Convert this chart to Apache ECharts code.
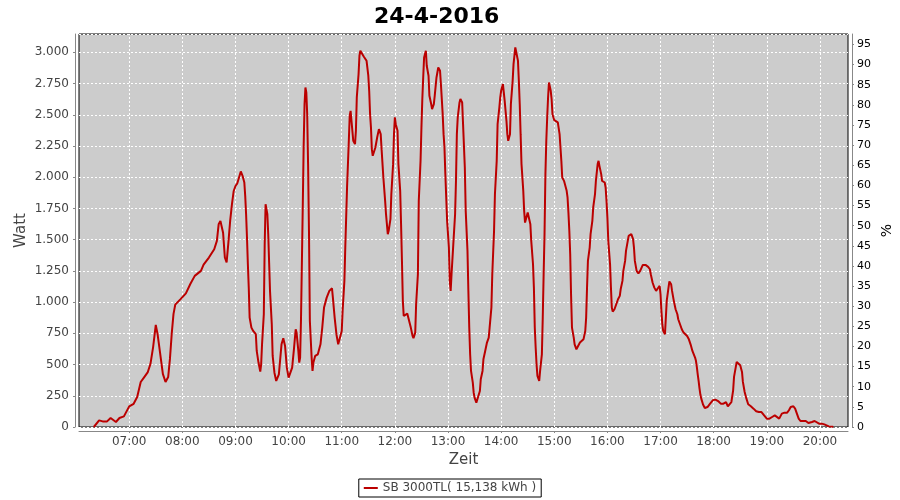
<!DOCTYPE html>
<html><head><meta charset="utf-8">
<script src="https://cdn.jsdelivr.net/npm/echarts@6/dist/echarts.min.js"></script>
<style>html,body{margin:0;padding:0;background:#fff}#c{width:900px;height:500px}</style>
</head><body><div id="c"></div>
<script>
const chartTitle = '24-4-2016';
const seriesName = 'SB 3000TL( 15,138 kWh )';
const xName = 'Zeit';
const yLeftName = 'Watt';
const yRightName = '%';
const hourTicks = ['07:00','08:00','09:00','10:00','11:00','12:00','13:00','14:00','15:00','16:00','17:00','18:00','19:00','20:00'];
const wattMax = 3147;
const pctMax = 97.6;

const times = [
'06:20','06:26','06:30','06:35','06:39','06:45','06:49','06:54','07:00','07:05','07:09','07:13','07:17','07:21','07:24','07:27','07:30','07:32','07:35','07:38','07:41','07:44','07:46','07:48','07:50','07:52','07:58',
'08:04','08:09','08:14','08:21','08:24','08:30','08:36','08:39','08:41','08:43','08:46','08:48','08:50','08:52','08:54','08:56','08:58',
'09:00','09:02','09:04','09:06','09:08','09:10','09:11','09:12','09:13','09:14','09:15','09:16','09:18','09:20','09:23','09:24','09:26','09:28','09:29','09:30','09:32','09:33','09:34','09:36','09:37','09:38','09:39','09:41','09:42','09:44','09:46','09:48','09:49','09:51','09:52','09:54','09:56','09:58',
'10:00','10:02','10:04','10:06','10:08','10:09','10:11','10:12','10:13','10:14','10:16','10:17','10:18','10:19','10:20','10:21','10:22','10:23','10:24','10:26','10:27','10:28','10:30','10:33','10:36','10:38','10:40','10:43','10:46','10:49','10:50','10:52','10:54','10:56','10:58',
'11:00','11:01','11:03','11:04','11:06','11:08','11:09','11:10','11:12','11:13','11:15','11:16','11:17','11:19','11:20','11:21','11:23','11:25','11:28','11:30','11:31','11:32','11:33','11:34','11:35','11:37','11:38','11:40','11:42','11:44','11:45','11:47','11:49','11:50','11:52','11:53','11:55','11:56','11:58','11:59',
'12:00','12:01','12:03','12:04','12:06','12:07','12:08','12:09','12:10','12:12','12:14','12:16','12:18','12:20','12:21','12:23','12:24','12:26','12:27','12:29','12:30','12:31','12:32','12:33','12:35','12:36','12:38','12:39','12:41','12:42','12:44','12:45','12:47','12:49','12:51','12:52','12:54','12:55','12:56','12:57','12:58','12:59',
'13:01','13:02','13:03','13:04','13:06','13:08','13:09','13:10','13:11','13:13','13:14','13:16','13:17','13:19','13:20','13:22','13:23','13:24','13:25','13:26','13:28','13:29','13:30','13:32','13:34','13:36','13:37','13:39','13:40','13:42','13:44','13:46','13:47','13:49','13:50','13:52','13:53','13:55','13:56','13:58','13:59',
'14:00','14:02','14:03','14:04','14:06','14:07','14:08','14:09','14:10','14:11','14:13','14:14','14:16','14:17','14:19','14:20','14:21','14:22','14:23','14:25','14:26','14:27','14:28','14:30','14:31','14:33','14:34','14:36','14:37','14:38','14:39','14:40','14:41','14:43','14:44','14:46','14:47','14:48','14:49','14:50','14:51','14:52','14:53','14:54','14:56','14:57','14:58',
'15:00','15:02','15:04','15:06','15:07','15:08','15:09','15:11','15:12','15:14','15:15','15:16','15:17','15:18','15:19','15:20','15:22','15:23','15:25','15:27','15:29','15:31','15:33','15:35','15:36','15:37','15:38','15:40','15:41','15:43','15:44','15:46','15:47','15:49','15:50','15:51','15:53','15:54','15:57','15:58','15:59',
'16:00','16:01','16:03','16:04','16:05','16:06','16:08','16:10','16:12','16:14','16:15','16:17','16:18','16:20','16:21','16:23','16:24','16:27','16:29','16:30','16:31','16:33','16:35','16:37','16:40','16:43','16:46','16:48','16:49','16:51','16:53','16:55','16:57','16:59',
'17:00','17:01','17:02','17:03','17:05','17:06','17:07','17:09','17:10','17:12','17:13','17:15','17:17','17:19','17:20','17:22','17:24','17:26','17:28','17:30','17:32','17:34','17:36','17:37','17:39','17:40','17:41','17:42','17:43','17:44','17:45','17:46','17:48','17:50','17:53','17:56','17:59',
'18:02','18:05','18:08','18:11','18:14','18:16','18:18','18:20','18:22','18:23','18:25','18:26','18:28','18:30','18:32','18:33','18:35','18:37','18:39','18:42','18:45','18:48','18:51','18:54','18:57',
'19:00','19:03','19:06','19:09','19:11','19:14','19:17','19:20','19:23','19:25','19:27','19:30','19:32','19:34','19:36','19:38','19:41','19:44','19:47','19:49','19:51','19:54','19:56','19:59',
'20:02','20:05','20:07','20:10','20:14','20:15'
];
const watts = [
0,53,45,45,72,40,72,85,165,186,240,360,400,440,505,640,817,745,585,425,360,400,545,745,904,980,1024,
1070,1145,1210,1250,1300,1357,1423,1490,1623,1650,1556,1357,1317,1476,1650,1782,1890,
1930,1950,1998,2046,2011,1958,1851,1704,1517,1303,1116,876,796,769,743,609,516,443,502,662,903,1464,1784,1704,1544,1317,1090,823,569,435,369,369,422,582,662,711,649,475,
395,382,475,622,783,756,609,516,556,863,1771,2252,2586,2719,2679,2505,2105,1571,849,556,449,516,569,582,662,796,956,1036,1090,1111,1036,876,743,662,649,
769,930,1170,1437,1918,2292,2492,2532,2372,2292,2265,2372,2639,2826,2973,3013,3000,2965,2933,2813,2692,2505,2399,2225,2172,2180,2238,2318,2385,2345,2225,1998,1811,1704,1544,1571,1664,1864,2105,2345,
2479,2425,2372,2105,1891,1624,1330,1010,889,876,908,897,796,729,711,756,983,1223,1811,2131,2399,2626,2799,2959,3013,2893,2813,2652,2586,2545,2586,2652,2799,2879,2853,2746,2505,2345,2238,2025,1838,1651,
1437,1170,1090,1223,1464,1704,1971,2345,2479,2599,2626,2599,2425,2078,1731,1410,1090,796,582,449,355,275,235,195,208,288,382,449,542,609,676,716,796,956,1223,1571,1864,2131,2425,2559,2639,
2692,2746,2679,2612,2452,2345,2292,2278,2345,2586,2772,2906,3040,3026,2933,2772,2586,2345,2105,1891,1731,1637,1651,1717,1704,1624,1490,1303,1116,796,636,502,409,369,449,582,876,1223,1544,2025,2292,2479,2639,2759,2692,2626,2505,
2457,2452,2439,2345,2238,2131,1998,1971,1958,1891,1838,1717,1571,1384,1050,796,716,662,622,636,676,676,702,769,876,1116,1330,1437,1544,1651,1758,1864,1971,2105,2131,2091,2025,1971,1958,1918,1811,
1677,1490,1303,1116,956,924,943,983,1023,1050,1103,1170,1250,1330,1410,1490,1530,1544,1504,1437,1330,1250,1229,1250,1298,1298,1282,1263,1223,1157,1116,1090,1111,1130,
1063,930,823,770,743,876,1010,1116,1165,1143,1090,1010,943,903,863,823,783,756,743,729,702,660,609,595,556,530,481,422,370,310,260,227,180,152,160,187,214,
219,208,187,187,200,166,152,200,294,401,481,521,529,494,441,361,280,227,182,166,147,126,120,120,93,
67,67,80,93,80,67,107,115,115,134,160,166,147,107,67,48,48,48,32,27,40,48,40,27,
27,21,8,5,3,0
];

function toMin(t){ const p = t.split(':'); return (+p[0])*60 + (+p[1]); }
function fmtMin(v){ const h = Math.floor(v/60), m = Math.round(v - h*60); return String(h).padStart(2,'0') + ':' + String(m).padStart(2,'0'); }
function fmtThousands(v){ return String(Math.round(v)).replace(/\B(?=(\d{3})+(?!\d))/g, '.'); }

const pts = times.map((t,i) => [toMin(t), watts[i]]);
const x0 = toMin(times[0]), x1 = toMin(times[times.length-1]);
const margin = (x1 - x0) * 0.02;
const hourVals = hourTicks.map(toMin);

const FONT = 'DejaVu Sans';
const chart = echarts.init(document.getElementById('c'), null, {renderer: 'canvas'});
chart.setOption({
  animation: false,
  backgroundColor: '#ffffff',
  title: {
    text: chartTitle, left: 369, top: 1,
    textStyle: {fontFamily: FONT, fontSize: 22, fontWeight: 'bold', color: '#000'}
  },
  grid: {
    left: 79, right: 52, top: 34, bottom: 73, outerBoundsMode: 'none', containLabel: false,
    show: true, backgroundColor: '#cccccc', borderColor: '#000', borderWidth: 1
  },
  legend: {
    data: [seriesName], bottom: 3, left: 'center',
    borderColor: '#000', borderWidth: 1, padding: [3, 5], borderRadius: 0,
    icon: 'rect', itemWidth: 14, itemHeight: 2, itemGap: 5,
    textStyle: {fontFamily: FONT, fontSize: 12, color: '#444'}
  },
  xAxis: {
    type: 'value', min: x0 - margin, max: x1 + margin,
    name: xName, nameLocation: 'middle', nameGap: 22, nameMoveOverlap: false,
    nameTextStyle: {fontFamily: FONT, fontSize: 15, color: '#444'},
    offset: 4,
    axisLine: {show: true, onZero: false, lineStyle: {color: '#888', width: 1}},
    axisTick: {show: true, customValues: hourVals, length: 2, lineStyle: {color: '#888'}},
    axisLabel: {customValues: hourVals, formatter: v => fmtMin(v), margin: 5,
      fontFamily: FONT, fontSize: 12, color: '#444'},
    splitLine: {show: false}
  },
  yAxis: [{
    type: 'value', min: 0, max: wattMax, interval: 250, position: 'left',
    name: yLeftName, nameLocation: 'middle', nameGap: 46, nameRotate: 90, nameMoveOverlap: false,
    nameTextStyle: {fontFamily: FONT, fontSize: 15, color: '#444'},
    offset: 4,
    axisLine: {show: true, lineStyle: {color: '#888', width: 1}},
    axisTick: {show: true, length: 2, lineStyle: {color: '#888'}},
    axisLabel: {formatter: v => fmtThousands(v), showMaxLabel: false, margin: 6,
      fontFamily: FONT, fontSize: 12, color: '#444'},
    splitLine: {show: true, lineStyle: {color: '#ffffff', type: [2, 2], width: 1}}
  }, {
    type: 'value', min: 0, max: pctMax, interval: 5, position: 'right',
    name: yRightName, nameLocation: 'middle', nameGap: 28, nameRotate: 90, nameMoveOverlap: false,
    nameTextStyle: {fontFamily: FONT, fontSize: 14, color: '#000'},
    offset: 4,
    axisLine: {show: true, lineStyle: {color: '#888', width: 1}},
    axisTick: {show: true, length: 2, lineStyle: {color: '#888'}},
    axisLabel: {showMaxLabel: false, margin: 5, fontFamily: FONT, fontSize: 11, color: '#000'},
    splitLine: {show: false}
  }],
  series: [{
    name: 'grid', type: 'line', data: [], yAxisIndex: 0, z: 1,
    markLine: {
      silent: true, z: 2, symbol: ['none', 'none'], label: {show: false},
      lineStyle: {color: '#ffffff', type: [2, 2], width: 1, opacity: 1},
      data: hourVals.map(v => [{coord: [v, 0]}, {coord: [v, wattMax]}])
    }
  }, {
    name: seriesName, type: 'line', data: pts, yAxisIndex: 0,
    showSymbol: false, symbol: 'none', z: 5,
    lineStyle: {color: '#bb0000', width: 2}, itemStyle: {color: '#bb0000'}
  }]
});
</script>
</body></html>
